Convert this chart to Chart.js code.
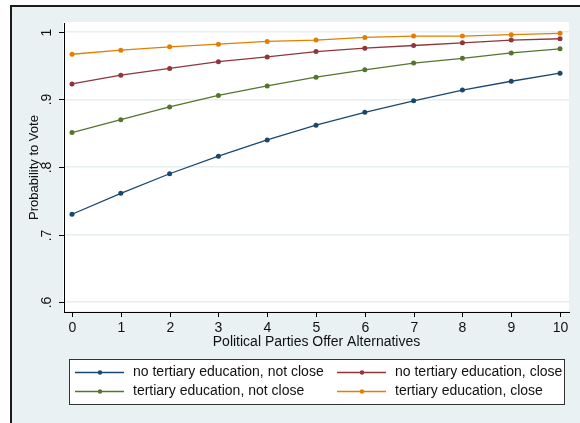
<!DOCTYPE html>
<html>
<head>
<meta charset="utf-8">
<script src="https://cdn.jsdelivr.net/npm/chart.js@4/dist/chart.umd.min.js"></script>
<style>
  html, body { margin: 0; padding: 0; background: #ffffff; }
  #frame {
    position: absolute; left: 10px; top: 5px; width: 580px; height: 430px;
    background: #eaf1f3; border-left: 2px solid #1c1c1c; border-top: 2px solid #1c1c1c;
  }
  #c { position: absolute; left: 0; top: 0; }
</style>
</head>
<body>
<div id="frame"></div>
<canvas id="c" width="580" height="423"></canvas>
<script>
// Number of alternatives offered by political parties
const alternatives = [0, 1, 2, 3, 4, 5, 6, 7, 8, 9, 10];

// Predicted probability to vote, by group
const noTertiaryNotClose = [0.730, 0.761, 0.790, 0.816, 0.840, 0.862, 0.881, 0.898, 0.914, 0.927, 0.939];
const noTertiaryClose    = [0.923, 0.936, 0.946, 0.956, 0.963, 0.971, 0.976, 0.980, 0.984, 0.988, 0.990];
const tertiaryNotClose   = [0.851, 0.870, 0.889, 0.906, 0.920, 0.933, 0.944, 0.954, 0.961, 0.969, 0.975];
const tertiaryClose      = [0.967, 0.973, 0.978, 0.982, 0.986, 0.988, 0.992, 0.994, 0.994, 0.996, 0.998];

const seriesNames = [
  'no tertiary education, not close',
  'no tertiary education, close',
  'tertiary education, not close',
  'tertiary education, close'
];

const yTickValues = [0.6, 0.7, 0.8, 0.9, 1.0];
const yTickLabels = ['.6', '.7', '.8', '.9', '1'];
const xTickValues = alternatives;
const xTickLabels = alternatives.map(String);

const xTitle = 'Political Parties Offer Alternatives';
const yTitle = 'Probability to Vote';

const FONT = '"Liberation Sans", Arial, sans-serif';
const TEXT = '#111';
const colors = ['#1a476f', '#90353b', '#55752f', '#e37e00'];
const seriesValues = [noTertiaryNotClose, noTertiaryClose, tertiaryNotClose, tertiaryClose];

const datasets = seriesValues.map((vals, i) => ({
  label: seriesNames[i],
  data: alternatives.map((x, j) => ({ x: x, y: vals[j] })),
  borderColor: colors[i],
  backgroundColor: colors[i],
  borderWidth: 1.3,
  pointRadius: 2.5,
  pointHoverRadius: 2.5,
  pointBorderWidth: 0,
  tension: 0
}));

// White plot region behind the data
const plotBackground = {
  id: 'plotBackground',
  beforeDraw(chart) {
    const { ctx, chartArea: a } = chart;
    ctx.save();
    ctx.fillStyle = '#ffffff';
    ctx.fillRect(a.left - 1, a.top - 1, a.right - a.left + 1, a.bottom - a.top);
    ctx.restore();
  }
};

// Tick marks, tick labels, axis titles and boxed legend
const axisDecor = {
  id: 'axisDecor',
  afterDraw(chart) {
    const { ctx, chartArea: a } = chart;
    const xs = chart.scales.x, ys = chart.scales.y;
    ctx.save();
    ctx.strokeStyle = '#000';
    ctx.lineWidth = 1;
    ctx.fillStyle = TEXT;

    // y ticks + rotated labels
    ctx.font = '14px ' + FONT;
    yTickValues.forEach((v, i) => {
      const py = Math.round(ys.getPixelForValue(v)) + 0.5;
      ctx.beginPath();
      ctx.moveTo(a.left - 5, py);
      ctx.lineTo(a.left, py);
      ctx.stroke();
      ctx.save();
      ctx.translate(a.left - 17, py);
      ctx.rotate(-Math.PI / 2);
      ctx.textAlign = 'center';
      ctx.textBaseline = 'middle';
      ctx.fillText(yTickLabels[i], 0, 0);
      ctx.restore();
    });

    // x ticks + labels
    xTickValues.forEach((v, i) => {
      const px = Math.round(xs.getPixelForValue(v)) + 0.5;
      ctx.beginPath();
      ctx.moveTo(px, a.bottom);
      ctx.lineTo(px, a.bottom + 5);
      ctx.stroke();
      ctx.textAlign = 'center';
      ctx.textBaseline = 'middle';
      ctx.fillText(xTickLabels[i], px, a.bottom + 16);
    });

    // axis titles
    ctx.font = '14px ' + FONT;
    ctx.textAlign = 'center';
    ctx.textBaseline = 'middle';
    ctx.fillText(xTitle, (a.left + a.right) / 2, a.bottom + 30);
    ctx.font = '13px ' + FONT;
    ctx.save();
    ctx.translate(34, (a.top + a.bottom) / 2);
    ctx.rotate(-Math.PI / 2);
    ctx.fillText(yTitle, 0, 0);
    ctx.restore();

    // legend box
    const box = { l: 69.5, t: 359.5, r: 564.5, b: 404.5 };
    ctx.fillStyle = '#ffffff';
    ctx.fillRect(box.l, box.t, box.r - box.l, box.b - box.t);
    ctx.strokeStyle = '#333';
    ctx.lineWidth = 1;
    ctx.strokeRect(box.l, box.t, box.r - box.l, box.b - box.t);

    const colX = [75, 337];
    const rowY = [372.5, 391.5];
    chart.data.datasets.forEach((ds, i) => {
      const cx = colX[i % 2], cy = rowY[Math.floor(i / 2)];
      ctx.strokeStyle = ds.borderColor;
      ctx.lineWidth = 1.3;
      ctx.beginPath();
      ctx.moveTo(cx, cy);
      ctx.lineTo(cx + 49, cy);
      ctx.stroke();
      ctx.fillStyle = ds.borderColor;
      ctx.beginPath();
      ctx.arc(cx + 25, cy, 2.2, 0, Math.PI * 2);
      ctx.fill();
      ctx.fillStyle = TEXT;
      ctx.font = '14px ' + FONT;
      ctx.textAlign = 'left';
      ctx.textBaseline = 'middle';
      ctx.fillText(ds.label, cx + 58, cy);
    });
    ctx.restore();
  }
};

new Chart(document.getElementById('c'), {
  type: 'line',
  data: { datasets: datasets },
  options: {
    responsive: false,
    animation: false,
    devicePixelRatio: 1,
    layout: { padding: { left: 64, top: 23, right: 11, bottom: 111 } },
    plugins: { legend: { display: false }, tooltip: { enabled: false } },
    scales: {
      x: {
        type: 'linear',
        min: -0.164,
        max: 10.184,
        afterBuildTicks(scale) { scale.ticks = xTickValues.map(v => ({ value: v })); },
        ticks: { display: false },
        grid: { display: false, drawTicks: false },
        border: { display: true, color: '#000', width: 1 }
      },
      y: {
        type: 'linear',
        min: 0.5852,
        max: 1.0133,
        afterBuildTicks(scale) { scale.ticks = yTickValues.map(v => ({ value: v })); },
        ticks: { display: false },
        grid: { display: true, drawTicks: false, color: '#e6eef0', lineWidth: 1.5 },
        border: { display: true, color: '#000', width: 1 }
      }
    }
  },
  plugins: [plotBackground, axisDecor]
});
</script>
</body>
</html>
